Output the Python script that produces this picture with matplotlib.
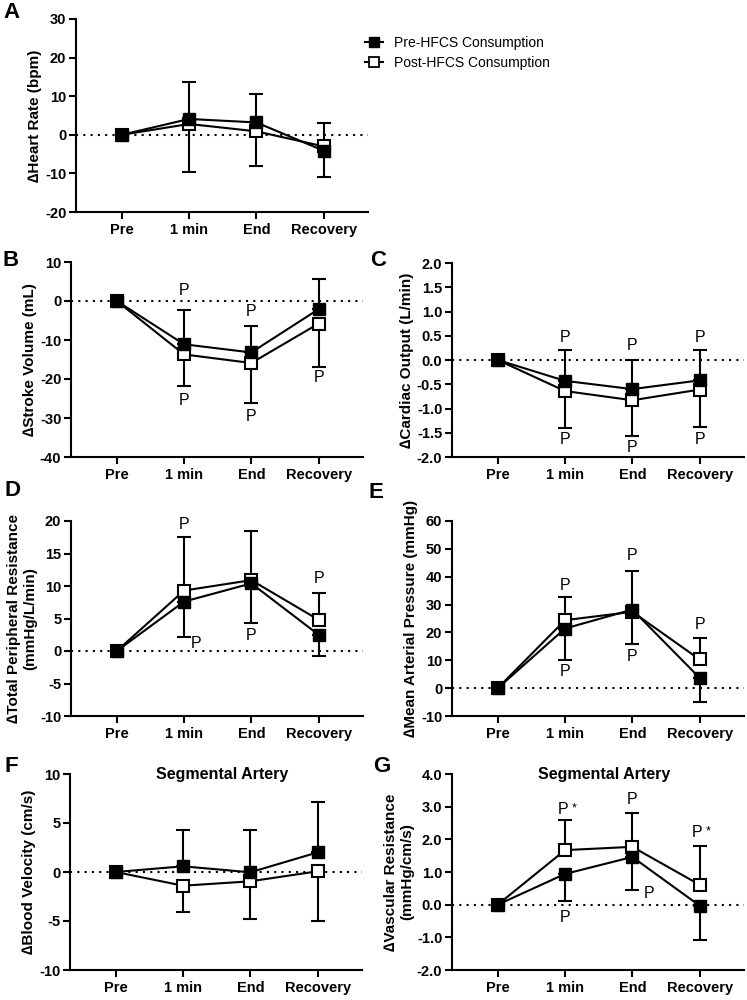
import matplotlib
matplotlib.use("Agg")
import matplotlib.pyplot as plt
from matplotlib.lines import Line2D
import numpy as np

plt.rcParams['font.family'] = ['Liberation Sans', 'DejaVu Sans']

times = ["Pre", "1 min", "End", "Recovery"]

# heart rate (bpm)
hr_pre = [0, 4.1, 3.2, -4.1]
hr_pre_sd = [0, 9.7, 7.3, 6.9]
hr_post = [0, 2.8, 0.9, -3.0]
hr_post_sd = [0, 12.5, 9.1, 6.0]

# stroke volume (mL)
sv_pre = [0, -11.1, -13.2, -2.1]
sv_pre_sd = [0, 8.7, 6.9, 7.8]
sv_post = [0, -13.7, -15.9, -5.8]
sv_post_sd = [0, 8.2, 10.3, 11.0]

# cardiac output (L/min)
co_pre = [0, -0.43, -0.60, -0.42]
co_pre_sd = [0, 0.64, 0.59, 0.62]
co_post = [0, -0.64, -0.83, -0.61]
co_post_sd = [0, 0.76, 0.74, 0.78]

# total peripheral resistance
tpr_pre = [0, 7.6, 10.4, 2.5]
tpr_pre_sd = [0, 5.5, 6.05, 3.2]
tpr_post = [0, 9.3, 10.9, 4.8]
tpr_post_sd = [0, 8.3, 7.6, 4.2]

# mean arterial pressure
map_pre = [0, 21.4, 28.2, 3.7]
map_pre_sd = [0, 11.4, 13.9, 8.6]
map_post = [0, 24.4, 27.4, 10.3]
map_post_sd = [0, 8.4, 11.6, 7.8]

# segmental artery blood velocity
bv_pre = [0, 0.58, -0.03, 2.0]
bv_pre_sd = [0, 3.7, 4.3, 5.1]
bv_post = [0, -1.40, -0.95, 0.07]
bv_post_sd = [0, 2.7, 3.8, 5.1]

# segmental artery vascular resistance
vr_pre = [0, 0.94, 1.46, -0.03]
vr_pre_sd = [0, 0.84, 1.0, 1.06]
vr_post = [0, 1.67, 1.77, 0.61]
vr_post_sd = [0, 0.92, 1.04, 1.18]

# "P" marks: (time index, y, x shift px, text)
sv_marks = [(1, 2.7, 0, "P"), (1, -25.5, 0, "P"), (2, -2.8, 0, "P"), (2, -29.7, 0, "P"), (3, -19.5, 0, "P")]
co_marks = [(1, 0.46, 0, "P"), (1, -1.64, 0, "P"), (2, 0.30, 0, "P"), (2, -1.81, 0, "P"),
            (3, 0.46, 0, "P"), (3, -1.64, 0, "P")]
tpr_marks = [(1, 19.5, 0, "P"), (1, 1.2, 12, "P"), (2, 20.4, 0, "P"), (2, 2.4, 0, "P"), (3, 11.2, 0, "P")]
map_marks = [(1, 37.0, 0, "P"), (1, 5.9, 0, "P"), (2, 47.5, 0, "P"), (2, 11.2, 0, "P"), (3, 23.0, 0, "P")]
vr_marks = [(1, 2.91, -2, "P*"), (1, -0.38, 0, "P"), (2, 3.22, 0, "P"), (2, 0.34, 17, "P"), (3, 2.2, -3, "P*")]

W, H = 747, 1000
fig = plt.figure(figsize=(W / 100, H / 100), dpi=100)

def make_ax(left, top, bottom, width=292):
    return fig.add_axes([left / W, 1 - bottom / H, width / W, (bottom - top) / H])

def panel(ax, pre, pre_sd, post, post_sd, ylim, yticks, ylabel, fmt="%d", marks=(), title=None):
    x = np.arange(len(times))
    pre = np.array(pre); post = np.array(post)
    pre_sd = np.array(pre_sd); post_sd = np.array(post_sd)
    pre_up = pre >= post
    z = np.zeros(len(x))
    ax.axhline(0, color="black", lw=1.5, ls=(0, (1, 2.5)), zorder=1)
    # higher series gets the upper bar, lower series the lower bar
    ax.errorbar(x, post, yerr=[np.where(pre_up, post_sd, z), np.where(pre_up, z, post_sd)],
                color="black", lw=1.5, capsize=4.7, capthick=1.5, marker="s", ms=8.5,
                mfc="white", mec="black", mew=1.5, zorder=3)
    ax.errorbar(x, pre, yerr=[np.where(pre_up, z, pre_sd), np.where(pre_up, pre_sd, z)],
                color="black", lw=1.5, capsize=4.7, capthick=1.5, marker="s", ms=8.5,
                mfc="black", mec="black", zorder=4)
    ax.set_xlim(-0.68, 3.66)
    ax.set_ylim(*ylim)
    ax.set_yticks(yticks)
    ax.set_yticklabels([fmt % v for v in yticks])
    ax.set_xticks(x)
    ax.set_xticklabels(times)
    for s in ["top", "right"]:
        ax.spines[s].set_visible(False)
    for s in ["left", "bottom"]:
        ax.spines[s].set_linewidth(1.5)
    ax.tick_params(width=1.5, length=5, labelsize=10.5, pad=2)
    ax.tick_params(axis="x", labelsize=10.5, pad=3)
    for lab in ax.get_xticklabels() + ax.get_yticklabels():
        lab.set_fontweight("bold")
    ax.set_ylabel(ylabel, fontsize=11, fontweight="bold", labelpad=2)
    for xi, y, dx, txt in marks:
        ax.annotate("P", (xi, y), xytext=(dx * 0.72, 0), textcoords="offset points",
                    ha="center", va="center", fontsize=11.5)
        if txt == "P*":
            ax.annotate("*", (xi, y), xytext=(dx * 0.72 + 8, 1), textcoords="offset points",
                        ha="center", va="center", fontsize=9)
    if title:
        ax.text(0.52, 1.0, title, transform=ax.transAxes, ha="center", va="center",
                fontsize=11.5, fontweight="bold")

axA = make_ax(76, 19, 212)
panel(axA, hr_pre, hr_pre_sd, hr_post, hr_post_sd, (-20, 30), [-20, -10, 0, 10, 20, 30],
      "\u2206Heart Rate (bpm)")
axB = make_ax(71, 262, 457)
panel(axB, sv_pre, sv_pre_sd, sv_post, sv_post_sd, (-40, 10), [-40, -30, -20, -10, 0, 10],
      "\u2206Stroke Volume (mL)", marks=sv_marks)
axC = make_ax(452, 263, 457)
panel(axC, co_pre, co_pre_sd, co_post, co_post_sd, (-2, 2), np.arange(-2, 2.01, 0.5),
      "\u2206Cardiac Output (L/min)", fmt="%.1f", marks=co_marks)
axD = make_ax(71, 521, 716)
panel(axD, tpr_pre, tpr_pre_sd, tpr_post, tpr_post_sd, (-10, 20), [-10, -5, 0, 5, 10, 15, 20],
      "\u2206Total Peripheral Resistance\n(mmHg/L/min)", marks=tpr_marks)
axE = make_ax(452, 521, 716)
panel(axE, map_pre, map_pre_sd, map_post, map_post_sd, (-10, 60), [-10, 0, 10, 20, 30, 40, 50, 60],
      "\u2206Mean Arterial Pressure (mmHg)", marks=map_marks)
axF = make_ax(70, 774, 970)
panel(axF, bv_pre, bv_pre_sd, bv_post, bv_post_sd, (-10, 10), [-10, -5, 0, 5, 10],
      "\u2206Blood Velocity (cm/s)", title="Segmental Artery")
axG = make_ax(452, 774, 970)
panel(axG, vr_pre, vr_pre_sd, vr_post, vr_post_sd, (-2, 4), np.arange(-2, 4.01, 1.0),
      "\u2206Vascular Resistance\n(mmHg/cm/s)", fmt="%.1f", marks=vr_marks,
      title="Segmental Artery")

for letter, px, py in [("A", 3, 12), ("B", 3, 260), ("C", 370, 260), ("D", 4, 490),
                       ("E", 368, 492), ("F", 5, 766), ("G", 373, 766)]:
    fig.text(px / W, 1 - py / H, letter, fontsize=16, fontweight="bold", ha="left", va="center")

handles = [Line2D([], [], color="black", lw=1.5, marker="s", ms=6.5, mfc="black", mec="black"),
           Line2D([], [], color="black", lw=1.5, marker="s", ms=6.5, mfc="white", mec="black", mew=1.3)]
fig.legend(handles, ["Pre-HFCS Consumption", "Post-HFCS Consumption"], loc="upper left",
           bbox_to_anchor=(365 / W, 1 - 36 / H), frameon=False, fontsize=10, handlelength=1.3,
           handletextpad=0.8, labelspacing=0.45, borderpad=0, borderaxespad=0)

fig.savefig("out.png", dpi=100)
